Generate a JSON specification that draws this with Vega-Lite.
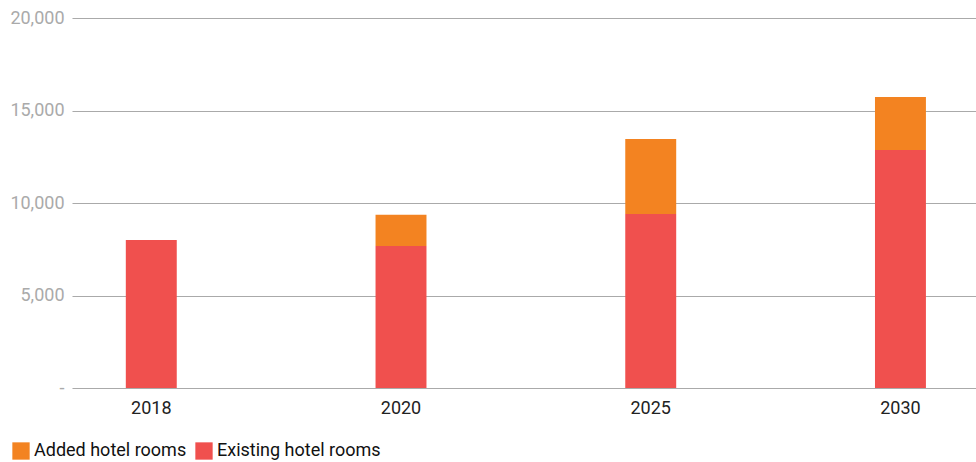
{
  "$schema": "https://vega.github.io/schema/vega-lite/v6.json",
  "width": 904,
  "height": 370,
  "autosize": "none",
  "padding": {"left": 72, "top": 18, "right": 0, "bottom": 74},
  "background": "white",
  "config": {
    "view": {"stroke": null},
    "font": "Roboto"
  },
  "data": {
    "values": [
      {"year": "2018", "type": "Existing hotel rooms", "value": 8000},
      {"year": "2020", "type": "Existing hotel rooms", "value": 7680},
      {"year": "2020", "type": "Added hotel rooms", "value": 1680},
      {"year": "2025", "type": "Existing hotel rooms", "value": 9410},
      {"year": "2025", "type": "Added hotel rooms", "value": 4050},
      {"year": "2030", "type": "Existing hotel rooms", "value": 12870},
      {"year": "2030", "type": "Added hotel rooms", "value": 2860}
    ]
  },
  "mark": {"type": "bar"},
  "encoding": {
    "x": {
      "field": "year",
      "type": "ordinal",
      "scale": {"paddingInner": 0.796, "paddingOuter": 0.208, "align": 0.518},
      "axis": {
        "title": null,
        "domain": false,
        "ticks": false,
        "labelAngle": 0,
        "labelFontSize": 18,
        "labelColor": "#222222",
        "labelPadding": 11
      }
    },
    "y": {
      "field": "value",
      "type": "quantitative",
      "stack": "zero",
      "scale": {"domain": [0, 20000], "nice": false},
      "axis": {
        "title": null,
        "values": [0, 5000, 10000, 15000, 20000],
        "domain": false,
        "ticks": false,
        "grid": true,
        "gridColor": "#aaaaaa",
        "gridWidth": 1.2,
        "labelFontSize": 18,
        "labelColor": "#aaaaaa",
        "labelPadding": 8,
        "labelExpr": "datum.value === 0 ? '-' : format(datum.value, ',')"
      }
    },
    "color": {
      "field": "type",
      "type": "nominal",
      "scale": {
        "domain": ["Added hotel rooms", "Existing hotel rooms"],
        "range": ["#F38321", "#F0504E"]
      },
      "legend": {
        "title": null,
        "orient": "none",
        "legendX": -60,
        "legendY": 424,
        "direction": "horizontal",
        "symbolType": "square",
        "symbolSize": 300,
        "symbolOpacity": 1,
        "symbolStrokeWidth": 0,
        "labelFontSize": 18,
        "labelLimit": 400,
        "labelColor": "#111111",
        "labelOffset": 4,
        "columnPadding": 8
      }
    },
    "order": {"field": "type", "sort": "descending"}
  }
}
